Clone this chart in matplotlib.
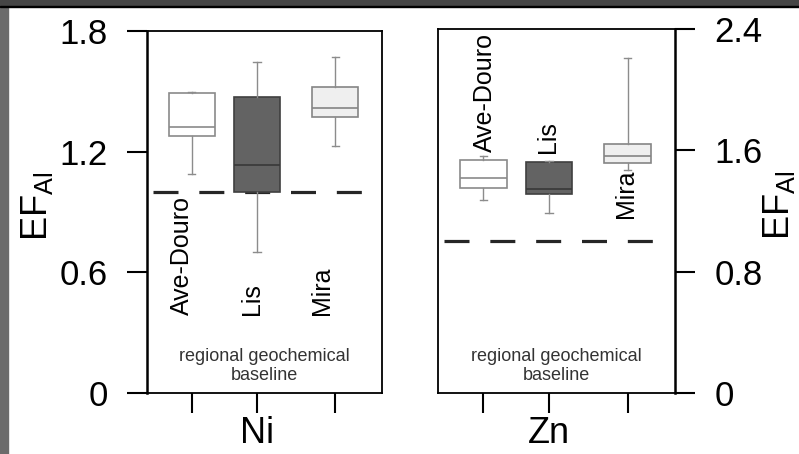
import matplotlib.pyplot as plt
from matplotlib.patches import Rectangle

plt.rcParams['font.family'] = ['Liberation Sans', 'DejaVu Sans']
plt.rcParams['mathtext.default'] = 'regular'
plt.rcParams['lines.scale_dashes'] = False

# data (EF_Al box statistics)
sites = ['Ave-Douro', 'Lis', 'Mira']
ni_lo = [1.09, 0.70, 1.23]
ni_q1 = [1.28, 1.00, 1.37]
ni_med = [1.325, 1.135, 1.415]
ni_q3 = [1.49, 1.47, 1.52]
ni_hi = [1.495, 1.645, 1.67]

zn_lo = [1.27, 1.185, 1.47]
zn_q1 = [1.35, 1.31, 1.515]
zn_med = [1.42, 1.345, 1.565]
zn_q3 = [1.535, 1.525, 1.645]
zn_hi = [1.56, 1.53, 2.21]

baseline = 1.0
ni_ticks = [0, 0.6, 1.2, 1.8]
zn_ticks = [0, 0.8, 1.6, 2.4]

# layout
pos = [1, 2, 3.2]
face = ['#ffffff', '#636363', '#efefef']
edge = ['#8a8a8a', '#404040', '#858585']
medc = ['#8a8a8a', '#383838', '#858585']
ni_lab_x = [0.85, 1.92, 3.0]
ni_lab_y = [0.39, 0.39, 0.39]
zn_lab_x = [1.03, 1.98, 3.17]
zn_lab_y = [1.59, 1.58, 1.155]

fig = plt.figure(figsize=(7.99, 4.54), dpi=100)
fig.patch.set_facecolor('white')
fig.patches.append(Rectangle((0, 0), 7.5/799, 1, transform=fig.transFigure,
                             color='#6b6b6b', zorder=0))
fig.patches.append(Rectangle((0, 1 - 5.5/454), 1, 5.5/454, transform=fig.transFigure,
                             color='#454545', zorder=0))
fig.patches.append(Rectangle((0, 1 - 7/454), 1, 1.5/454, transform=fig.transFigure,
                             color='black', zorder=0))

ax1 = fig.add_axes([147/799, 1 - 393/454, 235/799, 362/454])
ax2 = fig.add_axes([438/799, 1 - 393/454, 237/799, 364/454])


def draw(ax, lo, q1, med, q3, hi, ymax, ticks, side, name, lab_x, lab_y):
    stats = [dict(med=m, q1=a, q3=b, whislo=l, whishi=h, fliers=[])
             for l, a, m, b, h in zip(lo, q1, med, q3, hi)]
    ax.hlines(baseline, 0.40, 3.63, colors='#262626', linewidth=2.3,
              linestyles=(0, (18, 15)), zorder=1)
    bp = ax.bxp(stats, positions=pos, widths=0.71, capwidths=0.11,
                patch_artist=True, showfliers=False, manage_ticks=False,
                boxprops=dict(linewidth=1.2),
                whiskerprops=dict(color='#8c8c8c', linewidth=1.0),
                capprops=dict(color='#8c8c8c', linewidth=1.0),
                medianprops=dict(linewidth=1.2))
    for b, fc, ec in zip(bp['boxes'], face, edge):
        b.set_facecolor(fc)
        b.set_edgecolor(ec)
    for m, c in zip(bp['medians'], medc):
        m.set_color(c)

    for s, x, y in zip(sites, lab_x, lab_y):
        ax.text(x, y, s, rotation=90, ha='center', va='bottom', fontsize=18)

    ax.text(0.5, 0.075, 'regional geochemical\nbaseline', transform=ax.transAxes,
            ha='center', va='center', fontsize=13, color='#333333', linespacing=1.15)

    ax.set_xlim(0.31, 3.92)
    ax.set_ylim(0, ymax)
    ax.set_xticks(pos)
    ax.set_xticklabels([])
    ax.tick_params(axis='x', direction='out', length=14.4, width=1.5)
    ax.set_yticks(ticks)
    ax.set_yticklabels([('%g' % t) for t in ticks])
    ax.tick_params(axis='y', direction='out', length=14.4, width=1.5,
                   pad=14, labelsize=25)
    for sp in ax.spines.values():
        sp.set_linewidth(1.3)
    ax.spines[side].set_linewidth(1.8)

    ax.set_xlabel(name, fontsize=26)
    ax.xaxis.set_label_coords((2 - 0.31) / 3.61, -0.064)


draw(ax1, ni_lo, ni_q1, ni_med, ni_q3, ni_hi, 1.8, ni_ticks, 'left', 'Ni',
     ni_lab_x, ni_lab_y)
draw(ax2, zn_lo, zn_q1, zn_med, zn_q3, zn_hi, 2.4, zn_ticks, 'right', 'Zn',
     zn_lab_x, zn_lab_y)
ax2.yaxis.tick_right()

ax1.text(-0.47, 0.515, r'EF$_{Al}$', transform=ax1.transAxes, rotation=90,
         ha='center', va='center', fontsize=26)
ax2.text(1.44, 0.515, r'EF$_{Al}$', transform=ax2.transAxes, rotation=90,
         ha='center', va='center', fontsize=26)

fig.savefig('out.png', dpi=100)
